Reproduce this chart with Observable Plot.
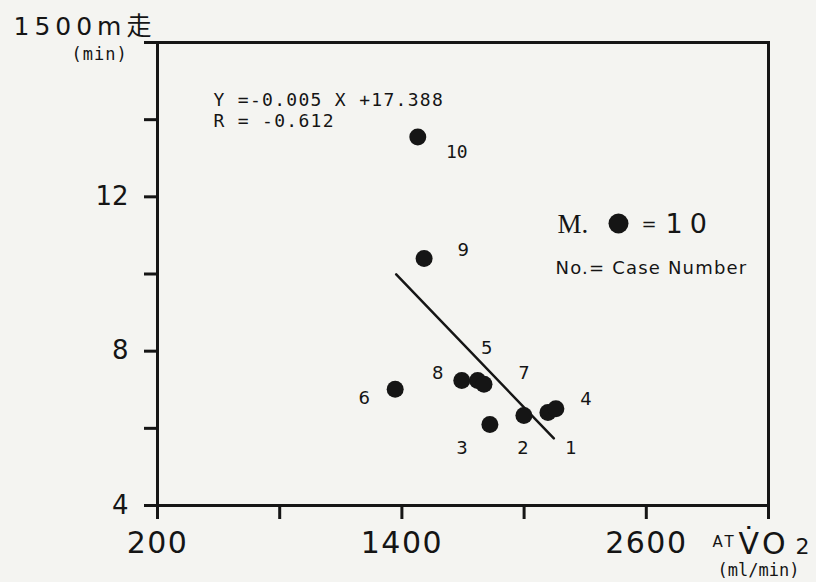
<!DOCTYPE html>
<html><head><meta charset="utf-8">
<script src="https://cdn.jsdelivr.net/npm/d3@7"></script>
<script src="https://cdn.jsdelivr.net/npm/@observablehq/plot@0.6"></script>
<style>
body{margin:0;background:#f4f4f1;}
#chart svg{display:block;}
</style>
</head><body><div id="chart"></div>
<script>
// ---- data ----
const caseNumbers = [1, 2, 3, 4, 5, 6, 7, 8, 9, 10];
const atVO2 = [2117, 1999, 1832, 2156, 1772, 1367, 1803, 1694, 1509, 1478];   // ml/min
const run1500m = [6.41, 6.33, 6.10, 6.51, 7.24, 7.01, 7.14, 7.24, 10.40, 13.55]; // min
const fitX = [1372, 2146];
const fitY = [9.99, 5.74];
const xTicks = [200, 800, 1400, 2000, 2600, 3200];
const xTickLabels = [200, 1400, 2600];
const yTicks = [4, 6, 8, 10, 12, 14, 16];
const yTickLabels = [4, 8, 12];
const equationText = "Y =-0.005 X +17.388";
const rText = "R = -0.612";
const yTitle = "1500m走";
const yUnit = "(min)";
const xTitleA = "AT";
const xTitleB = "V\u0307O";
const xTitleC = "2";
const xUnit = "(ml/min)";
const legendM = "M.";
const legendN = "10";
const legendNo = "No.= Case Number";

const cases = caseNumbers.map((n, i) => ({n, x: atVO2[i], y: run1500m[i]}));
const fit = fitX.map((x, i) => ({x, y: fitY[i]}));

const ink = "#151515";
const sans = "DejaVu Sans, sans-serif";
const mono = "DejaVu Sans Mono, monospace";

// label placement (pixel offsets from each point)
const labelOffset = {
  1: [23, 36], 2: [-1, 33], 3: [-28, 24], 4: [30, -9], 5: [9, -32],
  6: [-31, 9], 7: [40, -11], 8: [-24, -7], 9: [39, -8], 10: [39, 15]
};

const note = (text, anchor, dx, dy, o = {}) =>
  Plot.text([text], {text: d => d, frameAnchor: anchor, dx, dy, fill: ink, textAnchor: "start",
    lineAnchor: "middle", fontFamily: sans, ...o});

const marks = [
  Plot.frame({stroke: ink, strokeWidth: 3}),
  Plot.axisX({ticks: xTicks, tickSize: 14, tickPadding: 12, strokeWidth: 3, stroke: ink, fill: ink,
    tickFormat: d => xTickLabels.includes(d) ? String(d) : "", fontSize: 30, fontFamily: sans, label: null}),
  Plot.axisY({ticks: yTicks, tickSize: 13, tickPadding: 16, strokeWidth: 3, stroke: ink, fill: ink,
    tickFormat: d => yTickLabels.includes(d) ? String(d) : "", fontSize: 26, fontFamily: sans, label: null}),
  Plot.line(fit, {x: "x", y: "y", stroke: ink, strokeWidth: 2.5}),
  Plot.dot(cases, {x: "x", y: "y", r: 8.5, fill: ink, stroke: "none"}),
  ...caseNumbers.map(n => Plot.text(cases, {
    filter: d => d.n === n, x: "x", y: "y", text: d => String(d.n),
    dx: labelOffset[n][0], dy: labelOffset[n][1], fill: ink,
    fontSize: 18, fontFamily: n === 10 ? mono : sans
  })),
  // equation
  note(equationText, "top-left", 56, 57.5, {fontFamily: mono, fontSize: 18}),
  note(rText, "top-left", 56, 78.5, {fontFamily: mono, fontSize: 18}),
  // y title
  note(yTitle, "top-left", -144, -16, {fontSize: 25, fontFamily: "DejaVu Sans, Noto Sans CJK JP, sans-serif"}),
  note(yUnit, "top-left", -86, 12, {fontFamily: mono, fontSize: 17}),
  // legend
  note(legendM, "top-left", 400, 182, {fontFamily: "Liberation Serif, serif", fontSize: 27}),
  Plot.dot([0], {frameAnchor: "top-left", dx: 461, dy: 181, r: 10, fill: ink}),
  note("=", "top-left", 484, 182, {fontSize: 18}),
  note(legendN, "top-left", 508, 182, {fontSize: 27}),
  note(legendNo, "top-left", 398, 226, {fontSize: 18}),
  // x title
  note(xTitleA, "bottom-right", -56, 37, {fontSize: 15}),
  note(xTitleB, "bottom-right", -30, 38.5, {fontSize: 30}),
  note(xTitleC, "bottom-right", 27, 41.5, {fontSize: 22}),
  note(xUnit, "bottom-right", -51, 65, {fontFamily: mono, fontSize: 17})
];

const svg = Plot.plot({
  width: 816, height: 582,
  marginLeft: 157, marginRight: 48, marginTop: 42, marginBottom: 77,
  x: {domain: [200, 3200]},
  y: {domain: [4, 16]},
  style: {background: "#f4f4f1", color: ink},
  marks
});
document.getElementById("chart").appendChild(svg);

// letter spacing by text content and rendered font size
const fs = t => parseFloat(getComputedStyle(t).fontSize);
const spacing = [
  [t => xTickLabels.map(String).includes(t.textContent), 1.5],
  [t => t.textContent === equationText || t.textContent === rText, 1.3],
  [t => t.textContent === yTitle, 5],
  [t => t.textContent === yUnit, 1],
  [t => t.textContent === legendN && fs(t) === 27, 7],
  [t => t.textContent === legendNo, 1.2],
  [t => t.textContent === xTitleA || t.textContent === xTitleB, 3]
];
svg.querySelectorAll("text").forEach(t => {
  for (const [test, ls] of spacing) {
    if (test(t)) { t.setAttribute("letter-spacing", ls + "px"); t.style.letterSpacing = ls + "px"; break; }
  }
});
</script>
</body></html>
